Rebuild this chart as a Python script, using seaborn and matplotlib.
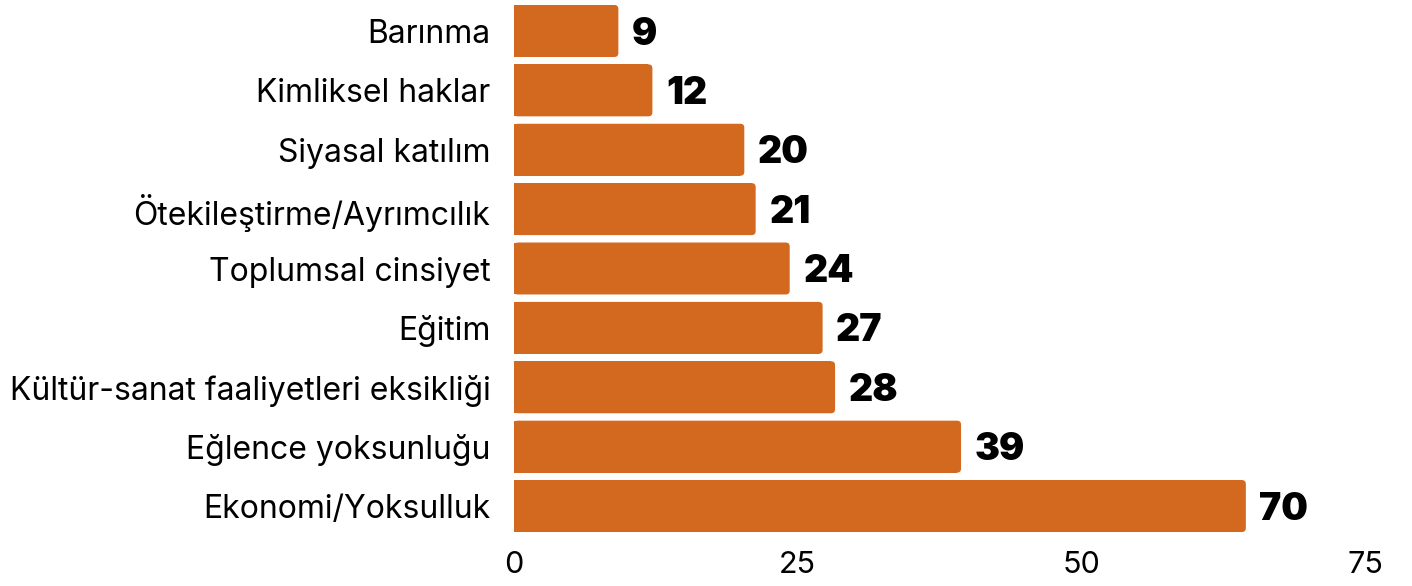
import matplotlib
matplotlib.use("Agg")
import matplotlib.pyplot as plt
from matplotlib.patches import FancyBboxPatch
import seaborn as sns
import pandas as pd

categories = ["Barınma", "Kimliksel haklar", "Siyasal katılım", "Ötekileştirme/Ayrımcılık",
              "Toplumsal cinsiyet", "Eğitim", "Kültür-sanat faaliyetleri eksikliği",
              "Eğlence yoksunluğu", "Ekonomi/Yoksulluk"]
# bar lengths as drawn in the picture (last bar is drawn shorter than its label)
bar_values = [9.2, 12.2, 20.3, 21.3, 24.3, 27.2, 28.3, 39.4, 64.5]
value_labels = ["9", "12", "20", "21", "24", "27", "28", "39", "70"]
xticks = [0, 25, 50, 75]

bar_color = "#D2691E"

sns.set_theme(style="white")
plt.rcParams['font.family'] = ['Inter', 'DejaVu Sans']

df = pd.DataFrame({'Kategori': categories, 'Deger': bar_values})

fig = plt.figure(figsize=(14.12, 5.86), dpi=100)
ax = fig.add_axes([0.364, 0.0858, 0.9667 - 0.364, 0.912])

sns.barplot(data=df, x='Deger', y='Kategori', color=bar_color, saturation=1,
            width=0.875, ax=ax, orient='h')

# round the right-hand corners of the bars
rx = 0.35
ry = 0.067
for bar in list(ax.patches):
    x0, y0 = bar.get_x(), bar.get_y()
    w, h = bar.get_width(), bar.get_height()
    bar.set_width(w - rx)
    bar.set_linewidth(0)
    rounded = FancyBboxPatch((x0, y0), w, h,
                             boxstyle="round,pad=0,rounding_size=%f" % rx,
                             mutation_aspect=ry / rx,
                             facecolor=bar_color, edgecolor='none')
    ax.add_patch(rounded)

for i, (v, lab) in enumerate(zip(bar_values, value_labels)):
    ax.text(v + 1.2, i + 0.06, lab, va='center', ha='left', fontsize=27,
            fontweight='black', color='black')

ax.set_xlim(0, 75)
ax.set_ylim(8.5, -0.5)
ax.set_xticks(xticks)
ax.set_xticklabels([str(t) for t in xticks])
ax.set_xlabel('')
ax.set_ylabel('')
ax.tick_params(axis='x', length=0, labelsize=22, pad=11, labelcolor='black')
ax.tick_params(axis='y', length=0, labelsize=23, pad=17, labelcolor='black')
sns.despine(ax=ax, left=True, bottom=True)
ax.grid(False)

fig.savefig("out.png", dpi=100)
